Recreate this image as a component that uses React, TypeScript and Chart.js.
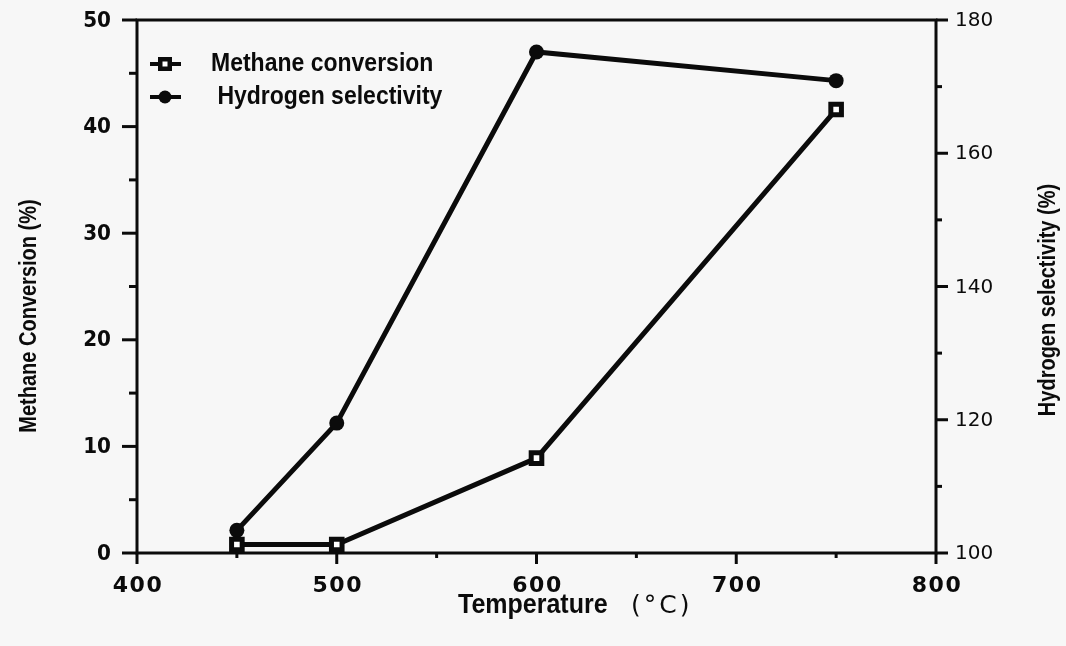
import React, { useEffect, useRef } from "react";
import { Chart, registerables } from "chart.js";

Chart.register(...registerables);

// ---- data ----
const temperatures = [450, 500, 600, 750];
const methaneConversion = [0.8, 0.8, 8.9, 41.6];
const hydrogenSelectivity = [103.4, 119.5, 175.2, 170.9];

const xMajorTicks = [400, 500, 600, 700, 800];
const xMinorTicks = [450, 550, 650, 750];
const leftMajorTicks = [0, 10, 20, 30, 40, 50];
const leftMinorTicks = [5, 15, 25, 35, 45];
const rightMajorTicks = [100, 120, 140, 160, 180];
const rightMinorTicks = [110, 130, 150, 170];

const methaneLabel = "Methane conversion";
const hydrogenLabel = " Hydrogen selectivity";
const xTitle = "Temperature";
const xUnit = "(°C)";
const leftTitle = "Methane Conversion (%)";
const rightTitle = "Hydrogen selectivity (%)";

const INK = "#0b0b0b";
const PAPER = "#f7f7f7";

function drawSquareMarker(ctx: CanvasRenderingContext2D, x: number, y: number) {
  ctx.fillStyle = INK;
  ctx.fillRect(x - 7, y - 7, 14, 14);
  ctx.fillStyle = "#ffffff";
  ctx.fillRect(x - 2.5, y - 2.5, 5, 5);
  ctx.fillStyle = INK;
}

// text with a slight vertical stretch, like the scanned original
function stretchedText(
  ctx: CanvasRenderingContext2D,
  text: string,
  x: number,
  y: number,
  rotate: number,
  stretch: number
) {
  ctx.save();
  ctx.translate(x, y);
  if (rotate) ctx.rotate(rotate);
  ctx.scale(1, stretch);
  ctx.fillText(text, 0, 0);
  ctx.restore();
}

const paperAxesPlugin = {
  id: "paperAxes",
  beforeDatasetsDraw(chart: any) {
    const { ctx, chartArea: a, scales } = chart;
    const sx = scales.x;
    const sy = scales.y;
    const sy1 = scales.y1;
    const line = (x1: number, y1: number, x2: number, y2: number) => {
      ctx.beginPath();
      ctx.moveTo(x1, y1);
      ctx.lineTo(x2, y2);
      ctx.stroke();
    };
    ctx.save();
    ctx.strokeStyle = INK;
    ctx.lineCap = "butt";
    ctx.lineWidth = 3;
    ctx.strokeRect(a.left, a.top, a.right - a.left, a.bottom - a.top);

    leftMajorTicks.forEach((v) => {
      const p = sy.getPixelForValue(v);
      line(a.left - 15, p, a.left, p);
    });
    leftMinorTicks.forEach((v) => {
      const p = sy.getPixelForValue(v);
      line(a.left - 8, p, a.left, p);
    });
    rightMajorTicks.forEach((v) => {
      const p = sy1.getPixelForValue(v);
      line(a.right, p, a.right + 12, p);
    });
    rightMinorTicks.forEach((v) => {
      const p = sy1.getPixelForValue(v);
      line(a.right, p, a.right + 6, p);
    });
    xMajorTicks.forEach((v) => {
      const p = sx.getPixelForValue(v);
      line(p, a.bottom, p, a.bottom + 11);
    });
    xMinorTicks.forEach((v) => {
      const p = sx.getPixelForValue(v);
      line(p, a.bottom, p, a.bottom + 5);
    });

    ctx.fillStyle = INK;
    ctx.textBaseline = "middle";

    // left tick labels
    ctx.font = 'bold 20px "DejaVu Sans"';
    ctx.textAlign = "right";
    leftMajorTicks.forEach((v) => {
      stretchedText(ctx, String(v), a.left - 26, sy.getPixelForValue(v) + 1, 0, 1.08);
    });

    // right tick labels
    ctx.font = '20px "DejaVu Sans"';
    ctx.textAlign = "left";
    rightMajorTicks.forEach((v) => {
      ctx.fillText(String(v), a.right + 19, sy1.getPixelForValue(v) + 1);
    });

    // bottom tick labels
    ctx.font = 'bold 22px "DejaVu Sans"';
    ctx.textAlign = "center";
    (ctx as any).letterSpacing = "1.5px";
    xMajorTicks.forEach((v) => {
      ctx.fillText(String(v), sx.getPixelForValue(v) + 1, a.bottom + 33);
    });
    (ctx as any).letterSpacing = "0px";

    // bottom title
    ctx.textAlign = "left";
    ctx.font = 'bold 25px "Liberation Sans"';
    stretchedText(ctx, xTitle, 458, a.bottom + 53, 0, 1.08);
    ctx.font = '25px "DejaVu Sans"';
    (ctx as any).letterSpacing = "3px";
    ctx.fillText(xUnit, 631, a.bottom + 53);
    (ctx as any).letterSpacing = "0px";

    // axis titles
    ctx.font = 'bold 20px "Liberation Sans"';
    ctx.textAlign = "center";
    stretchedText(ctx, leftTitle, 29, 316, -Math.PI / 2, 1.2);
    stretchedText(ctx, rightTitle, 1048, 300, -Math.PI / 2, 1.2);

    // legend
    ctx.lineWidth = 4;
    line(150, 64, 181, 64);
    drawSquareMarker(ctx, 165, 64);
    line(150, 97, 181, 97);
    ctx.beginPath();
    ctx.arc(165, 97, 6.5, 0, Math.PI * 2);
    ctx.fill();
    ctx.font = 'bold 23px "Liberation Sans"';
    ctx.textAlign = "left";
    stretchedText(ctx, methaneLabel, 211, 64, 0, 1.15);
    stretchedText(ctx, hydrogenLabel, 211, 97, 0, 1.15);

    ctx.restore();
  },
};

export default function App() {
  const canvasRef = useRef<HTMLCanvasElement | null>(null);

  useEffect(() => {
    document.body.style.margin = "0";
    document.body.style.background = PAPER;
    const canvas = canvasRef.current;
    if (!canvas) return;
    const chart = new Chart(canvas, {
      type: "scatter",
      data: {
        datasets: [
          {
            label: methaneLabel,
            data: temperatures.map((t, i) => ({ x: t, y: methaneConversion[i] })),
            yAxisID: "y",
            showLine: true,
            borderColor: INK,
            borderWidth: 5,
            pointStyle: "rect",
            pointRadius: 7.5,
            pointBorderWidth: 5,
            pointBorderColor: INK,
            pointBackgroundColor: "#ffffff",
            clip: false,
          } as any,
          {
            label: hydrogenLabel,
            data: temperatures.map((t, i) => ({ x: t, y: hydrogenSelectivity[i] })),
            yAxisID: "y1",
            showLine: true,
            borderColor: INK,
            borderWidth: 5,
            pointStyle: "circle",
            pointRadius: 7.5,
            pointBorderWidth: 0,
            pointBackgroundColor: INK,
            clip: false,
          } as any,
        ],
      },
      options: {
        animation: false,
        responsive: true,
        maintainAspectRatio: false,
        events: [],
        layout: { padding: { left: 137, right: 130, top: 20, bottom: 93 } },
        plugins: { legend: { display: false }, tooltip: { enabled: false } },
        scales: {
          x: { type: "linear", min: 400, max: 800, display: false },
          y: { type: "linear", position: "left", min: 0, max: 50, display: false },
          y1: { type: "linear", position: "right", min: 100, max: 180, display: false },
        },
      },
      plugins: [paperAxesPlugin],
    });
    return () => chart.destroy();
  }, []);

  return (
    <div style={{ position: "fixed", left: 0, top: 0, width: 1066, height: 646, background: PAPER }}>
      <canvas ref={canvasRef} />
    </div>
  );
}
